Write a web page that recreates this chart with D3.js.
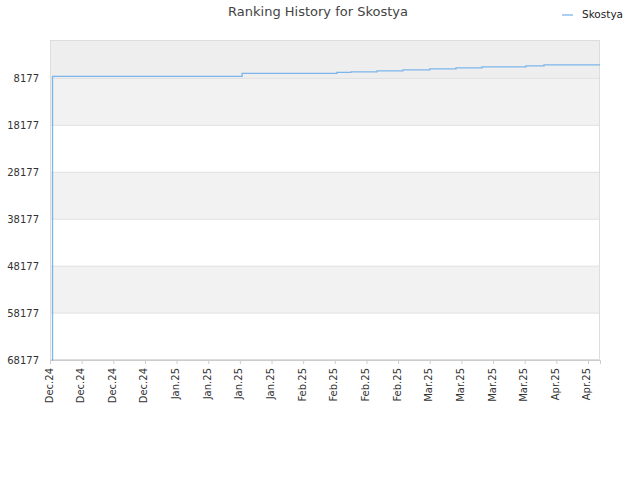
<!DOCTYPE html><html><head><meta charset="utf-8"><script src="https://cdn.jsdelivr.net/npm/d3@7"></script>
<style>body{margin:0;background:#fff;font-family:"DejaVu Sans",sans-serif}</style></head><body><svg id="c" width="640" height="480"></svg>
<script>
const tickLabels=["Dec.24","Dec.24","Dec.24","Dec.24","Jan.25","Jan.25","Jan.25","Jan.25","Feb.25","Feb.25","Feb.25","Feb.25","Mar.25","Mar.25","Mar.25","Mar.25","Apr.25","Apr.25"];
const yTicks=[8177,18177,28177,38177,48177,58177,68177];
const stepX=[0.06,0.08,6.07,9.07,9.51,10.33,11.15,12.0,12.83,13.65,15.04,15.61,17.38];
const stepRank=[68177,7751,7113,6900,6794,6581,6368,6156,5943,5730,5517,5304,5304];
const svg=d3.select("#c");
const L=50,R=600,T=40,B=360;
const x=d3.scaleLinear().domain([0,17.38]).range([L,R]);
const y=d3.scaleLinear().domain([1,68177]).range([T,B]);
const bands=[1,...yTicks];
for(let i=0;i<bands.length-1;i++){
  const fill=i===0?"#eeeeee":(i%2===1?"#f2f2f2":"#ffffff");
  svg.append("rect").attr("x",L).attr("y",y(bands[i])).attr("width",R-L).attr("height",y(bands[i+1])-y(bands[i])).attr("fill",fill);
}
yTicks.forEach(t=>svg.append("line").attr("x1",L).attr("x2",R).attr("y1",y(t)).attr("y2",y(t)).attr("stroke","#e0e0e0"));
svg.append("rect").attr("x",L+0.5).attr("y",T+0.5).attr("width",R-L-1).attr("height",B-T-1).attr("fill","none").attr("stroke","#dddddd");
const ya=svg.append("g").attr("transform",`translate(${L},0)`).call(d3.axisLeft(y).tickValues(yTicks).tickSize(0).tickPadding(11).tickFormat(d=>d));
ya.select(".domain").remove();
ya.selectAll("text").attr("font-size",10).attr("fill","#333").attr("font-family","DejaVu Sans");
const xa=svg.append("g").attr("transform",`translate(0,${B})`).call(d3.axisBottom(x).tickValues(d3.range(tickLabels.length)).tickSize(4).tickFormat(i=>tickLabels[i]));
xa.select(".domain").attr("stroke","#ccc");
xa.selectAll("line").attr("stroke","#ccc");
xa.selectAll("text").attr("font-size",10).attr("fill","#333").attr("font-family","DejaVu Sans")
  .attr("transform","rotate(-90)").attr("text-anchor","end").attr("dx","-0.6em").attr("dy","-0.1em").attr("y",0).attr("x",-2).style("dominant-baseline","middle");
const pts=stepX.map((v,i)=>[v,stepRank[i]]);
svg.append("path").datum(pts).attr("fill","none").attr("stroke","#7cb5ec").attr("stroke-width",1.3)
  .attr("d",d3.line().x(d=>x(d[0])).y(d=>y(d[1])).curve(d3.curveStepAfter));
svg.append("text").attr("x",318).attr("y",16).attr("text-anchor","middle").attr("font-size",13).attr("fill","#444").text("Ranking History for Skostya");
svg.append("line").attr("x1",562).attr("x2",573).attr("y1",15).attr("y2",15).attr("stroke","#7cb5ec").attr("stroke-width",1.3);
svg.append("text").attr("x",582).attr("y",18).attr("font-size",10.5).attr("fill","#222").text("Skostya");
</script></body></html>
